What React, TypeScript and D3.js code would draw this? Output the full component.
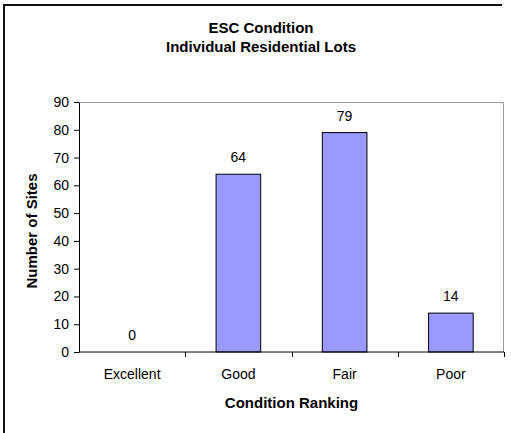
import React, { useEffect, useRef } from 'react';
import * as d3 from 'd3';

const categories = ['Excellent', 'Good', 'Fair', 'Poor'];
const siteCounts = [0, 64, 79, 14];
const yTicks = [0, 10, 20, 30, 40, 50, 60, 70, 80, 90];

const width = 511;
const height = 433;
const margins = { l: 79, t: 102, r: 7, b: 81 };
const font = 'Arial, "Liberation Sans", sans-serif';

const App = () => {
  const container = useRef(null);

  useEffect(() => {
    const svg = d3.select(container.current);
    svg.selectAll('*').remove();

    const plotwidth = width - margins.l - margins.r;
    const plotheight = height - margins.t - margins.b;

    const xScale = d3
      .scaleBand()
      .domain(categories)
      .range([0, plotwidth])
      .paddingInner(0.58)
      .paddingOuter(0.29);

    const yScale = d3.scaleLinear().domain([0, 90]).range([plotheight, 0]);

    // outer frame (top + left only, the rest is cropped)
    svg
      .append('path')
      .attr('d', 'M4,434 L4,5 L502,5')
      .attr('fill', 'none')
      .attr('stroke', '#111')
      .attr('stroke-width', 2);

    const plotg = svg
      .append('g')
      .attr('transform', `translate(${margins.l},${margins.t})`);

    // plot area border
    plotg
      .append('path')
      .attr('d', `M0,0.5 H${plotwidth - 0.5} V${plotheight}`)
      .attr('fill', 'none')
      .attr('stroke', '#999')
      .attr('stroke-width', 1);

    plotg
      .selectAll('.bar')
      .data(siteCounts)
      .join('rect')
      .attr('class', 'bar')
      .attr('x', (d, i) => xScale(categories[i]))
      .attr('y', d => yScale(d))
      .attr('width', xScale.bandwidth())
      .attr('height', d => plotheight - yScale(d))
      .attr('fill', '#9999ff')
      .attr('stroke', '#000')
      .attr('stroke-width', 1)
      .style('display', d => (d > 0 ? null : 'none'));

    plotg
      .selectAll('.bar-label')
      .data(siteCounts)
      .join('text')
      .attr('class', 'bar-label')
      .attr('x', (d, i) => xScale(categories[i]) + xScale.bandwidth() / 2)
      .attr('y', d => yScale(d) - 12)
      .attr('text-anchor', 'middle')
      .style('font-family', font)
      .style('font-size', '14px')
      .text(d => d);

    const yAxis = d3
      .axisLeft(yScale)
      .tickValues(yTicks)
      .tickSize(5)
      .tickSizeOuter(0)
      .tickPadding(5);
    const yaxisg = plotg.append('g').call(yAxis);
    yaxisg.selectAll('text').style('font-family', font).style('font-size', '14px');
    yaxisg.selectAll('line,path').attr('stroke', '#000');

    // x axis with ticks between categories
    const xaxisg = plotg.append('g').attr('transform', `translate(0,${plotheight})`);
    xaxisg
      .append('line')
      .attr('x1', 0)
      .attr('x2', plotwidth)
      .attr('stroke', '#000');
    const step = xScale.step();
    const boundaries = categories.map((c, i) => xScale(c) - xScale.paddingInner() * step / 2 + step);
    xaxisg
      .selectAll('.xtick')
      .data(boundaries)
      .join('line')
      .attr('class', 'xtick')
      .attr('x1', d => Math.round(d) + 0.5)
      .attr('x2', d => Math.round(d) + 0.5)
      .attr('y1', 0)
      .attr('y2', 5)
      .attr('stroke', '#000');
    xaxisg
      .selectAll('.xlabel')
      .data(categories)
      .join('text')
      .attr('class', 'xlabel')
      .attr('x', d => xScale(d) + xScale.bandwidth() / 2)
      .attr('y', 27)
      .attr('text-anchor', 'middle')
      .style('font-family', font)
      .style('font-size', '14px')
      .text(d => d);

    // titles
    const title = svg
      .append('text')
      .attr('text-anchor', 'middle')
      .style('font-family', font)
      .style('font-size', '15px')
      .style('font-weight', 'bold');
    title.append('tspan').attr('x', 261).attr('y', 33).text('ESC Condition');
    title.append('tspan').attr('x', 261).attr('y', 52).text('Individual Residential Lots');

    svg
      .append('text')
      .attr('x', margins.l + plotwidth / 2)
      .attr('y', 408)
      .attr('text-anchor', 'middle')
      .style('font-family', font)
      .style('font-size', '15px')
      .style('font-weight', 'bold')
      .text('Condition Ranking');

    svg
      .append('text')
      .attr('transform', `translate(37,231) rotate(-90)`)
      .attr('text-anchor', 'middle')
      .style('font-family', font)
      .style('font-size', '15px')
      .style('font-weight', 'bold')
      .text('Number of Sites');
  }, []);

  return (
    <svg
      ref={container}
      width={width}
      height={height}
      style={{ position: 'absolute', left: 0, top: 0, background: '#fff' }}
    />
  );
};

export default App;
